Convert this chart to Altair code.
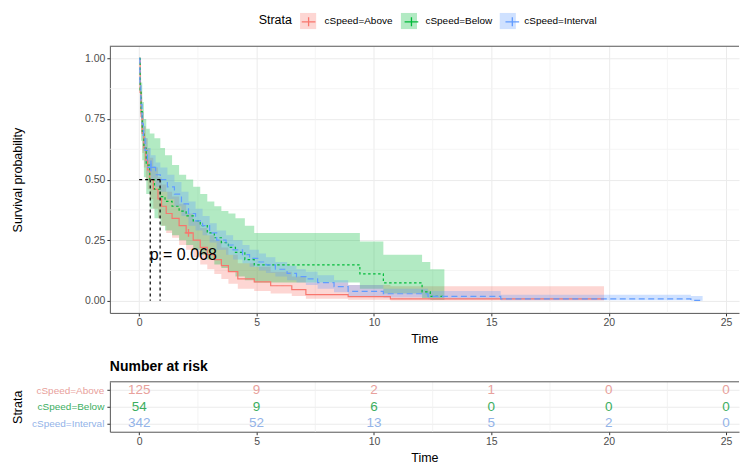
import altair as alt
import pandas as pd

STRATA = ["cSpeed=Above", "cSpeed=Below", "cSpeed=Interval"]
LINE_COLORS = ["#F8766D", "#00BA38", "#619CFF"]
RISK_COLORS = ["#e8a19c", "#3cae5f", "#93b3e8"]
DASHES = [[1, 0], [2.5, 2.5], [6, 3.5]]

# ---- Kaplan-Meier estimates ----
t_above = [0, 0.04, 0.08, 0.13, 0.2, 0.28, 0.36, 0.45, 0.6, 0.8, 0.95, 1.15, 1.4, 1.7, 2.0, 2.3, 2.6, 2.9, 3.2, 3.5,
           3.8, 4.2, 4.9, 5.6, 6.5, 7.1, 8.9, 10.7, 19.8]
s_above = [1.0, 0.86, 0.76, 0.69, 0.63, 0.58, 0.54, 0.50, 0.46, 0.42, 0.39, 0.36, 0.34, 0.31, 0.28, 0.25, 0.22, 0.19, 0.17, 0.145,
           0.12, 0.09, 0.078, 0.062, 0.046, 0.025, 0.017, 0.008, 0.008]
u_above = [1.0, 0.92, 0.84, 0.78, 0.72, 0.67, 0.63, 0.59, 0.55, 0.51, 0.48, 0.45, 0.43, 0.40, 0.36, 0.33, 0.30, 0.27, 0.25, 0.22,
           0.19, 0.155, 0.14, 0.12, 0.10, 0.075, 0.065, 0.06, 0.06]
l_above = [1.0, 0.80, 0.69, 0.61, 0.55, 0.50, 0.46, 0.42, 0.38, 0.34, 0.31, 0.28, 0.26, 0.23, 0.21, 0.18, 0.15, 0.13, 0.11, 0.09,
           0.07, 0.05, 0.04, 0.03, 0.02, 0.008, 0.004, 0.001, 0.001]

t_below = [0, 0.04, 0.08, 0.13, 0.2, 0.3, 0.45, 0.65, 0.9, 1.1, 1.4, 1.7, 2.0, 2.3, 2.6, 2.9, 3.2, 3.5, 3.8, 4.1,
           4.5, 4.9, 9.4, 10.4, 12.05, 12.4, 13.0]
s_below = [1.0, 0.87, 0.78, 0.70, 0.63, 0.56, 0.50, 0.46, 0.43, 0.41, 0.39, 0.37, 0.35, 0.33, 0.31, 0.28, 0.26, 0.24, 0.22, 0.20,
           0.17, 0.148, 0.111, 0.074, 0.037, 0.018, 0.018]
u_below = [1.0, 0.95, 0.90, 0.82, 0.75, 0.71, 0.69, 0.67, 0.63, 0.60, 0.56, 0.52, 0.50, 0.47, 0.44, 0.41, 0.39, 0.37, 0.36, 0.34,
           0.31, 0.28, 0.245, 0.19, 0.16, 0.13, 0.13]
l_below = [1.0, 0.77, 0.66, 0.58, 0.51, 0.44, 0.38, 0.34, 0.31, 0.29, 0.27, 0.25, 0.23, 0.21, 0.19, 0.17, 0.15, 0.135, 0.12, 0.10,
           0.085, 0.075, 0.05, 0.03, 0.01, 0.003, 0.003]

t_int = [0, 0.03, 0.07, 0.12, 0.18, 0.25, 0.35, 0.5, 0.7, 0.9, 1.2, 1.5, 1.8, 2.1, 2.4, 2.7, 3.0, 3.3, 3.7, 4.0,
         4.4, 4.7, 5.1, 5.4, 5.8, 6.3, 6.7, 7.1, 7.6, 8.3, 8.9, 10.4, 12.3, 15.4, 23.5, 24.0]
s_int = [1.0, 0.9, 0.81, 0.73, 0.67, 0.62, 0.58, 0.55, 0.52, 0.50, 0.47, 0.44, 0.40, 0.36, 0.33, 0.31, 0.28, 0.25, 0.23, 0.21,
         0.19, 0.175, 0.16, 0.148, 0.13, 0.113, 0.10, 0.09, 0.075, 0.058, 0.039, 0.029, 0.018, 0.008, 0.002, 0.002]
u_int = [1.0, 0.93, 0.85, 0.78, 0.72, 0.67, 0.63, 0.60, 0.57, 0.55, 0.52, 0.49, 0.45, 0.41, 0.38, 0.35, 0.32, 0.29, 0.27, 0.25,
         0.23, 0.21, 0.195, 0.18, 0.16, 0.145, 0.13, 0.12, 0.105, 0.085, 0.065, 0.05, 0.04, 0.025, 0.02, 0.02]
l_int = [1.0, 0.87, 0.77, 0.68, 0.62, 0.57, 0.53, 0.50, 0.47, 0.45, 0.42, 0.39, 0.35, 0.31, 0.29, 0.27, 0.24, 0.21, 0.19, 0.17,
         0.155, 0.14, 0.125, 0.115, 0.10, 0.085, 0.075, 0.065, 0.05, 0.035, 0.02, 0.013, 0.006, 0.002, 0.0, 0.0]

# censor marks
censor_t = [2.1, 0.5]
censor_s = [0.28, 0.55]
censor_strata = ["cSpeed=Above", "cSpeed=Interval"]

# median survival guide lines
median_t = [0, 0.89, 0.47, 0.47, 0.89, 0.89]
median_s = [0.5, 0.5, 0.5, 0.0, 0.5, 0.0]
median_seg = ["h", "h", "v1", "v1", "v2", "v2"]

pval_text = "p = 0.068"
pval_t = 0.45
pval_s = 0.19

# number at risk
risk_times = [0, 5, 10, 15, 20, 25]
risk_above = [125, 9, 2, 1, 0, 0]
risk_below = [54, 9, 6, 0, 0, 0]
risk_int = [342, 52, 13, 5, 2, 0]

x_major = [0, 5, 10, 15, 20, 25]
x_minor = [2.5, 7.5, 12.5, 17.5, 22.5]
y_major = [0, 0.25, 0.5, 0.75, 1.0]
y_minor = [0.125, 0.375, 0.625, 0.875]

# ---- build tables ----
rows = []
for name, ts, ss, us, ls in [
    ("cSpeed=Above", t_above, s_above, u_above, l_above),
    ("cSpeed=Below", t_below, s_below, u_below, l_below),
    ("cSpeed=Interval", t_int, s_int, u_int, l_int),
]:
    for t, s, u, l in zip(ts, ss, us, ls):
        rows.append({"strata": name, "time": t, "surv": s, "upper": u, "lower": l})
km = pd.DataFrame(rows)

cens = pd.DataFrame({"time": censor_t, "surv": censor_s, "strata2": censor_strata})
med = pd.DataFrame({"time": median_t, "surv": median_s, "seg": median_seg})
pv = pd.DataFrame({"time": [pval_t], "surv": [pval_s], "label": [pval_text]})

risk_rows = []
for name, vals in zip(STRATA, [risk_above, risk_below, risk_int]):
    for t, n in zip(risk_times, vals):
        risk_rows.append({"strata": name, "time": t, "n": str(n)})
risk = pd.DataFrame(risk_rows)

FONT = "Liberation Sans"
XDOM = [-1.25, 25.55]
W = 630

xscale = alt.Scale(domain=XDOM, nice=False, zero=False)
yscale = alt.Scale(domain=[-0.05, 1.05], nice=False, zero=False)

LEG_X = 149
LEG_Y = -34

legend_fill = alt.Legend(
    orient="none", legendX=LEG_X, legendY=LEG_Y, direction="horizontal",
    title="Strata", titleOrient="left", titleFontSize=12.5, titleFontWeight="normal",
    titleColor="#000", titlePadding=7, titleFont=FONT,
    labelFontSize=10, labelFont=FONT, labelColor="#000", labelOffset=8,
    columnPadding=7, symbolType="square", symbolSize=260, symbolOpacity=0.3,
    symbolStrokeWidth=0,
)
legend_cross = alt.Legend(
    orient="none", legendX=LEG_X, legendY=LEG_Y, direction="horizontal",
    title="Strata", titleOrient="left", titleFontSize=12.5, titleFontWeight="normal",
    titleOpacity=0, titlePadding=7, titleFont=FONT,
    labelFontSize=10, labelFont=FONT, labelOpacity=0, labelOffset=8,
    columnPadding=7, symbolType="M-0.85,0H0.85M0,-0.55V0.55", symbolSize=260,
    symbolStrokeWidth=1.3, symbolFillColor="transparent",
)

base = alt.Chart(km)

xenc = alt.X("time:Q", scale=xscale, title="Time",
             axis=alt.Axis(values=x_major, grid=True, gridColor="#ebebeb", tickColor="#333",
                           domainColor="#555", labelColor="#4d4d4d", labelFontSize=10.5,
                           titleFontSize=12.5, titleFontWeight="normal", titleColor="#000",
                           tickSize=3, labelPadding=2, titlePadding=4, labelFlush=False))
yenc = alt.Y("surv:Q", scale=yscale, title="Survival probability",
             axis=alt.Axis(values=y_major, format=".2f", grid=True, gridColor="#ebebeb", tickColor="#333",
                           domainColor="#555", labelColor="#4d4d4d", labelFontSize=10.5,
                           titleFontSize=12.5, titleFontWeight="normal", titleColor="#000",
                           tickSize=3, labelPadding=2, titlePadding=3, minExtent=82, maxExtent=82))

minor_x = alt.Chart(pd.DataFrame({"v": x_minor})).mark_rule(color="#f3f3f3", strokeWidth=0.8).encode(
    x=alt.X("v:Q", scale=xscale))
minor_y = alt.Chart(pd.DataFrame({"v": y_minor})).mark_rule(color="#f3f3f3", strokeWidth=0.8).encode(
    y=alt.Y("v:Q", scale=yscale))

bands = base.mark_area(interpolate="step-after", opacity=0.3).encode(
    x=alt.X("time:Q", scale=xscale),
    y=alt.Y("lower:Q", scale=yscale),
    y2="upper:Q",
    fill=alt.Fill("strata:N", scale=alt.Scale(domain=STRATA, range=LINE_COLORS), legend=legend_fill),
)

lines = base.mark_line(interpolate="step-after", strokeWidth=1.2).encode(
    x=alt.X("time:Q", scale=xscale),
    y=alt.Y("surv:Q", scale=yscale),
    stroke=alt.Stroke("strata:N", scale=alt.Scale(domain=STRATA, range=LINE_COLORS), legend=None),
    strokeDash=alt.StrokeDash("strata:N", scale=alt.Scale(domain=STRATA, range=DASHES), legend=None),
)

medlines = alt.Chart(med).mark_line(color="#000", strokeDash=[3, 3], strokeWidth=1.2).encode(
    x=alt.X("time:Q", scale=xscale), y=alt.Y("surv:Q", scale=yscale), detail="seg:N")

points = alt.Chart(cens).mark_point(shape="M-1,0H1M0,-1V1", size=60, filled=False, strokeWidth=1.3, opacity=1).encode(
    x=alt.X("time:Q", scale=xscale), y=alt.Y("surv:Q", scale=yscale),
    color=alt.Color("strata2:N", scale=alt.Scale(domain=STRATA, range=LINE_COLORS), legend=legend_cross),
)

ptext = alt.Chart(pv).mark_text(align="left", baseline="middle", fontSize=16, font=FONT, color="#000").encode(
    x=alt.X("time:Q", scale=xscale), y=alt.Y("surv:Q", scale=yscale), text="label:N")

topline = alt.Chart(pd.DataFrame({"a": [0]})).mark_rule(color="#555", strokeWidth=1).encode(y=alt.value(0))

axis_layer = base.mark_point(opacity=0).encode(x=xenc, y=yenc)

main = alt.layer(axis_layer, minor_x, minor_y, bands, lines, medlines, points, ptext, topline).properties(
    width=W, height=267)

# ---- risk table ----
label_color_expr = ("datum.value == 'cSpeed=Above' ? '%s' : datum.value == 'cSpeed=Below' ? '%s' : '%s'"
                    % tuple(RISK_COLORS))

rbase = alt.Chart(risk)
r_x = alt.X("time:Q", scale=xscale, title="Time",
            axis=alt.Axis(values=x_major, grid=False, tickColor="#333", domainColor="#555",
                          labelColor="#4d4d4d", labelFontSize=10.5, titleFontSize=12.5,
                          titleFontWeight="normal", titleColor="#000", tickSize=3,
                          labelPadding=2, titlePadding=4))
r_y = alt.Y("strata:N", scale=alt.Scale(domain=STRATA, paddingInner=0, paddingOuter=0), title="Strata",
            axis=alt.Axis(grid=True, gridColor="#ebebeb", tickColor="#333", domainColor="#555",
                          labelColor=alt.ExprRef(label_color_expr), labelFontSize=10,
                          titleFontSize=12.5, titleFontWeight="normal", titleColor="#000",
                          tickSize=3, labelPadding=3, titlePadding=3, minExtent=82, maxExtent=82))

r_minor = alt.Chart(pd.DataFrame({"v": x_minor})).mark_rule(color="#f0f0f0", strokeWidth=0.8).encode(
    x=alt.X("v:Q", scale=xscale))
r_text = rbase.mark_text(fontSize=13.5, font=FONT, baseline="middle").encode(
    x=r_x, y=r_y, text="n:N",
    color=alt.Color("strata:N", scale=alt.Scale(domain=STRATA, range=RISK_COLORS), legend=None),
)
r_top = alt.Chart(pd.DataFrame({"a": [0]})).mark_rule(color="#555", strokeWidth=1).encode(y=alt.value(0))

risk_chart = alt.layer(r_minor, r_text, r_top).properties(
    width=W, height=50,
    title=alt.TitleParams("Number at risk", anchor="start", frame="group", fontSize=14,
                          fontWeight="bold", font=FONT, color="#000", offset=7),
)

chart = alt.vconcat(main, risk_chart, spacing=15).resolve_scale(
    color="independent", x="shared"
).configure(
    padding={"left": 4, "top": 4, "right": 0, "bottom": 0}, font=FONT,
).configure_view(strokeWidth=0).configure_axis(labelFont=FONT, titleFont=FONT)

chart.save("out.html", embed_options={"renderer": "svg", "actions": False})
